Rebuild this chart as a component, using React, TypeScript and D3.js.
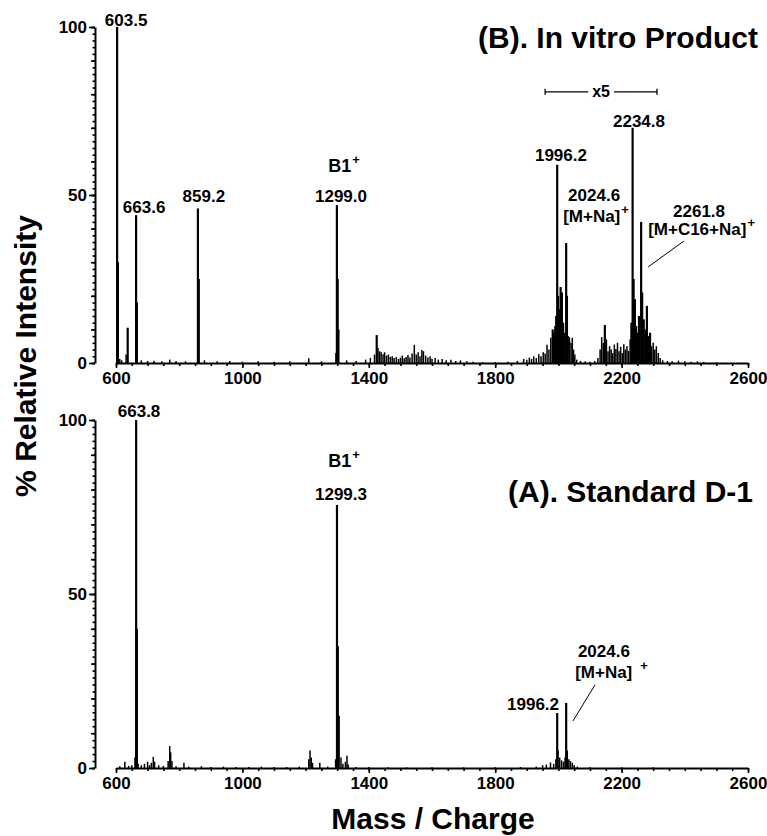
import { useEffect, useRef } from "react";
import * as d3 from "d3";

type Peak = [number, number]; // [m/z, % relative intensity]
type PeakLabel = { text: string; mz: number; v: number; sup?: string; anchor?: string; size?: number };
type Leader = [Peak, Peak];

const MZ_DOMAIN: [number, number] = [600, 2600];
const MZ_TICKS = [600, 1000, 1400, 1800, 2200, 2600];
const INTENSITY_TICKS = [0, 50, 100];

// (B) in vitro product
const PRODUCT_PEAKS: Peak[] = [
  [603.5, 100], [606, 30], [612, 1.2], [618, 0.8], [632, 2.5], [637, 10.5], [663.6, 44], [666, 18],
  [680, 0.8], [700, 0.6], [720, 0.7], [745, 0.5], [770, 1.0], [790, 0.6], [820, 0.5], [859.2, 46],
  [862, 25], [880, 0.8], [920, 0.5], [960, 0.6], [1000, 0.4], [1050, 0.5], [1100, 0.4], [1150, 0.5],
  [1210, 1.4], [1250, 0.5], [1296, 3], [1299.0, 47], [1301.5, 25], [1304, 10], [1330, 0.8], [1360, 0.6],
  [1390, 1.0], [1405, 1.5], [1418, 2.5], [1425, 8.3], [1429, 4.5], [1434, 3.5], [1439, 3.2], [1445, 2.6],
  [1450, 3.2], [1456, 2.2], [1462, 2.5], [1468, 1.8], [1474, 2.0], [1480, 1.5], [1487, 1.8], [1494, 1.2],
  [1500, 1.6], [1506, 2.2], [1512, 1.4], [1518, 1.8], [1524, 2.4], [1530, 1.6], [1537, 2.8], [1544, 5.4],
  [1550, 2.5], [1556, 3.2], [1562, 2.0], [1568, 3.9], [1573, 3.5], [1580, 2.2], [1587, 1.6], [1594, 2.0],
  [1600, 1.3], [1610, 1.5], [1620, 1.0], [1632, 1.2], [1645, 0.8], [1660, 1.0], [1675, 0.6], [1690, 0.8],
  [1710, 0.5], [1730, 0.4], [1760, 0.3], [1800, 0.3], [1840, 0.4], [1870, 0.6], [1890, 1.2], [1900, 1.0],
  [1908, 1.6], [1915, 1.2], [1922, 2.0], [1930, 1.5], [1938, 2.6], [1945, 2.0], [1952, 3.2], [1958, 2.8],
  [1964, 5.4], [1970, 4.0], [1976, 7.5], [1982, 10], [1986, 9], [1990, 11], [1993, 14], [1996.2, 59],
  [1999, 20], [2003, 16], [2007, 22.6], [2011, 21], [2015, 12], [2019, 9], [2024.6, 35.7], [2027, 20],
  [2031, 8], [2035, 7.7], [2040, 6], [2044, 7.5], [2048, 4], [2052, 2.5], [2058, 1.0], [2070, 0.6],
  [2085, 0.5], [2100, 0.4], [2115, 0.6], [2125, 1.5], [2132, 4], [2137, 7.7], [2142, 6], [2147, 11.3],
  [2152, 7], [2157, 3.5], [2162, 5], [2167, 4], [2172, 3], [2177, 5.5], [2182, 4.2], [2187, 6],
  [2192, 3.5], [2197, 4.8], [2202, 3], [2207, 5.6], [2212, 4], [2217, 5], [2222, 3.6], [2227, 7],
  [2231, 12], [2234.8, 70], [2238, 25], [2242, 19], [2246, 11], [2250, 9], [2255, 14], [2261.8, 42],
  [2265, 21], [2270, 13], [2275, 10], [2280, 17], [2285, 8], [2290, 9], [2295, 5], [2300, 6],
  [2305, 4], [2310, 5], [2316, 3], [2322, 1.5], [2330, 0.8], [2345, 0.6], [2360, 0.5], [2380, 0.7],
  [2400, 0.5], [2420, 0.4], [2440, 0.5], [2460, 0.3], [2500, 0.2],
];

const PRODUCT_LABELS: PeakLabel[] = [
  { text: "603.5", mz: 632, v: 100.3 },
  { text: "663.6", mz: 689, v: 44.6 },
  { text: "859.2", mz: 878, v: 47.9 },
  { text: "1299.0", mz: 1312, v: 47.9 },
  { text: "B1", sup: "+", mz: 1322, v: 56.8, size: 18 },
  { text: "1996.2", mz: 2008, v: 60.1 },
  { text: "2024.6", mz: 2113, v: 48.2 },
  { text: "[M+Na]", sup: "+", mz: 2015, v: 42, anchor: "start" },
  { text: "2234.8", mz: 2255, v: 70.2 },
  { text: "2261.8", mz: 2445, v: 43.5 },
  { text: "[M+C16+Na]", sup: "+", mz: 2284, v: 38.1, anchor: "start" },
];
const PRODUCT_LEADERS: Leader[] = [[[2284, 28.6], [2397, 36.3]]];
// the x5 zoom bracket over the high-mass region
const X5_RANGE: [number, number] = [1958, 2312];
const X5_LEVEL = 80.7;

// (A) standard D-1
const STANDARD_PEAKS: Peak[] = [
  [612, 0.5], [628, 1.8], [640, 0.6], [650, 0.8], [660, 3], [663.8, 100], [666, 40], [670, 1.2],
  [680, 0.8], [690, 1.2], [700, 1.8], [706, 0.8], [712, 1.5], [718, 3.2], [722, 1.8], [735, 0.8],
  [750, 0.6], [765, 2], [770, 6.3], [773, 4.5], [777, 2], [790, 0.5], [815, 1.5], [830, 0.4],
  [870, 0.5], [900, 0.3], [940, 0.4], [980, 0.3], [1020, 0.3], [1060, 0.4], [1100, 0.3], [1140, 0.3],
  [1180, 0.4], [1210, 2.5], [1214, 5], [1218, 3], [1222, 1.5], [1245, 1.5], [1270, 0.4], [1295, 2.5],
  [1299.3, 75.6], [1302, 35], [1305, 15], [1312, 3], [1318, 1.2], [1326, 1.8], [1331, 3.5], [1335, 1],
  [1360, 0.3], [1400, 0.3], [1460, 0.2], [1520, 0.2], [1600, 0.2], [1700, 0.2], [1800, 0.2], [1880, 0.3],
  [1930, 0.4], [1950, 0.8], [1962, 1.0], [1975, 1.6], [1985, 1.2], [1992, 2.5], [1996.2, 15.8], [1999, 5],
  [2004, 3], [2010, 2.2], [2016, 1.8], [2021, 3], [2024.6, 18.7], [2028, 5], [2033, 2.5], [2038, 2],
  [2044, 1.5], [2050, 0.8], [2060, 0.4], [2100, 0.2], [2200, 0.2], [2300, 0.2],
];

const STANDARD_LABELS: PeakLabel[] = [
  { text: "663.8", mz: 673, v: 100.9 },
  { text: "B1", sup: "+", mz: 1322, v: 86.5, size: 18 },
  { text: "1299.3", mz: 1312, v: 77 },
  { text: "1996.2", mz: 2002, v: 16.7, anchor: "end" },
  { text: "2024.6", mz: 2144, v: 31.9 },
  { text: "[M+Na]", sup: "+", mz: 2053, v: 25.9, anchor: "start" },
];
const STANDARD_LEADERS: Leader[] = [[[2046, 13.5], [2116, 23.9]]];

const FONT = "'Liberation Sans', Arial, Helvetica, sans-serif";

const App = () => {
  const svgRef = useRef(null);

  useEffect(() => {
    const svg = d3.select(svgRef.current);
    svg.selectAll("*").remove();
    const width = 767;
    const height = 836;
    const axisX = 95;

    svg.attr("width", width).attr("height", height).style("font-family", FONT);

    const x = d3.scaleLinear().domain(MZ_DOMAIN).range([116, 748]);

    const panels = [
      {
        peaks: PRODUCT_PEAKS, labels: PRODUCT_LABELS, leaders: PRODUCT_LEADERS,
        title: "(B). In vitro Product", titleX: 758, titleY: 48, yRange: [363, 27], x5: true,
      },
      {
        peaks: STANDARD_PEAKS, labels: STANDARD_LABELS, leaders: STANDARD_LEADERS,
        title: "(A). Standard D-1", titleX: 753, titleY: 502, yRange: [768, 420], x5: false,
      },
    ];

    panels.forEach((p) => {
      const y = d3.scaleLinear().domain([0, 100]).range(p.yRange);
      const g = svg.append("g");

      // sticks
      g.append("g")
        .selectAll("line")
        .data(p.peaks)
        .join("line")
        .attr("x1", (d) => x(d[0]))
        .attr("x2", (d) => x(d[0]))
        .attr("y1", y(0))
        .attr("y2", (d) => y(d[1]))
        .attr("stroke", "#000")
        .attr("stroke-width", (d) => (d[1] > 8 ? 2.2 : 1.5));

      // x axis: minor ticks every 50, labelled every 400
      const xMinor = g.append("g").attr("transform", `translate(0, ${y(0)})`)
        .call(d3.axisBottom(x).tickValues(d3.range(600, 2601, 50)).tickSize(3).tickSizeOuter(0).tickFormat(() => ""));
      xMinor.select(".domain").attr("stroke-width", 2);
      const xMajor = g.append("g").attr("transform", `translate(0, ${y(0)})`)
        .call(d3.axisBottom(x).tickValues(MZ_TICKS).tickSize(5).tickSizeOuter(0).tickPadding(4).tickFormat(d3.format("d")));
      xMajor.select(".domain").remove();

      // y axis
      const yMinor = g.append("g").attr("transform", `translate(${axisX}, 0)`)
        .call(d3.axisLeft(y).tickValues(d3.range(0, 101, 2)).tickSize(2.5).tickSizeOuter(0).tickFormat(() => ""));
      yMinor.select(".domain").attr("stroke-width", 2);
      g.append("g").attr("transform", `translate(${axisX}, 0)`)
        .call(d3.axisLeft(y).tickValues(d3.range(0, 101, 10)).tickSize(4).tickSizeOuter(0).tickFormat(() => ""))
        .select(".domain").remove();
      const yMajor = g.append("g").attr("transform", `translate(${axisX}, 0)`)
        .call(d3.axisLeft(y).tickValues(INTENSITY_TICKS).tickSize(6).tickSizeOuter(0).tickPadding(2).tickFormat(d3.format("d")));
      yMajor.select(".domain").remove();

      g.selectAll(".tick line").attr("stroke-width", 1.6);
      g.selectAll(".tick text")
        .attr("font-family", FONT)
        .attr("font-weight", "bold")
        .attr("font-size", "17px")
        .attr("fill", "#000");

      // peak labels
      p.labels.forEach((l) => {
        const t = g.append("text")
          .attr("x", x(l.mz))
          .attr("y", y(l.v))
          .attr("text-anchor", l.anchor || "middle")
          .attr("font-weight", "bold")
          .attr("font-size", `${l.size || 17}px`)
          .text(l.text);
        if (l.sup) {
          t.append("tspan")
            .attr("dx", l.text.startsWith("[") && !p.x5 ? 8 : 1)
            .attr("dy", -8)
            .attr("font-size", "13px")
            .text(l.sup);
        }
      });

      // leader lines
      g.selectAll(".leader")
        .data(p.leaders)
        .join("line")
        .attr("class", "leader")
        .attr("x1", (d) => x(d[0][0]))
        .attr("y1", (d) => y(d[0][1]))
        .attr("x2", (d) => x(d[1][0]))
        .attr("y2", (d) => y(d[1][1]))
        .attr("stroke", "#000")
        .attr("stroke-width", 1);

      if (p.x5) {
        const by = y(X5_LEVEL);
        const cx = (x(X5_RANGE[0]) + x(X5_RANGE[1])) / 2;
        const lbl = g.append("text")
          .attr("x", cx)
          .attr("y", by + 5)
          .attr("text-anchor", "middle")
          .attr("font-weight", "bold")
          .attr("font-size", "16px")
          .text("x5");
        const half = (lbl.node() as SVGTextElement).getComputedTextLength() / 2 + 4;
        const segs: [number, number][] = [[x(X5_RANGE[0]), cx - half], [cx + half, x(X5_RANGE[1])]];
        segs.forEach((s) => {
          g.append("line").attr("x1", s[0]).attr("x2", s[1]).attr("y1", by).attr("y2", by)
            .attr("stroke", "#000").attr("stroke-width", 1.3);
        });
        [x(X5_RANGE[0]), x(X5_RANGE[1])].forEach((px) => {
          g.append("line").attr("x1", px).attr("x2", px).attr("y1", by - 3).attr("y2", by + 3)
            .attr("stroke", "#000").attr("stroke-width", 1.3);
        });
      }

      // panel title
      g.append("text")
        .attr("x", p.titleX)
        .attr("y", p.titleY)
        .attr("text-anchor", "end")
        .attr("font-weight", "bold")
        .attr("font-size", "30px")
        .text(p.title);
    });

    // axis titles
    svg.append("text")
      .attr("transform", "translate(36, 356) rotate(-90)")
      .attr("text-anchor", "middle")
      .attr("font-weight", "bold")
      .attr("font-size", "30px")
      .text("% Relative Intensity");

    svg.append("text")
      .attr("x", 433)
      .attr("y", 829)
      .attr("text-anchor", "middle")
      .attr("font-weight", "bold")
      .attr("font-size", "30px")
      .text("Mass / Charge");
  }, []);

  return (
    <svg ref={svgRef} style={{ position: "absolute", left: 0, top: 0, background: "#fff" }}></svg>
  );
};

export default App;
